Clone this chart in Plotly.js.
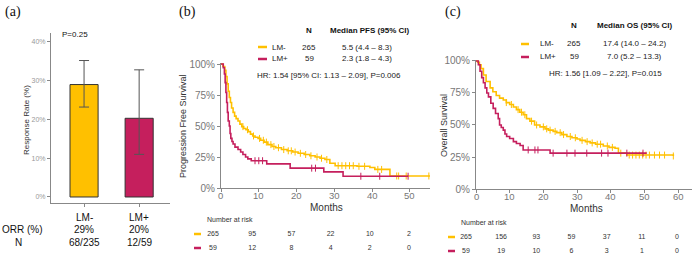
<!DOCTYPE html>
<html>
<head>
<meta charset="utf-8">
<script src="https://cdn.plot.ly/plotly-3.0.1.min.js"></script>
<style>html,body{margin:0;padding:0;background:#fff;}#chart{width:698px;height:258px;}</style>
</head>
<body>
<div id="chart"></div>
<script>
// ---------- DATA ----------
const groups = ["LM-", "LM+"];
const groupColors = ["#FFC000", "#C51F5D"];
// Panel (a) response rate
const orrValues = [29.0, 20.3];
const orrUpper = [35.2, 32.8];
const orrLower = [23.2, 11.0];
const orrText = ["29%", "20%"];
const orrN = ["68/235", "12/59"];
const orrP = "P=0.25";
const orrTicks = [0, 10, 20, 30, 40];

// Panel (b) PFS Kaplan-Meier
const pfsMinusT = [0, 0.5, 1.0, 1.3, 1.6, 1.9, 2.2, 2.5, 2.8, 3.2, 3.6, 4.0, 4.5, 5.0, 5.5, 6.0, 6.6, 7.2, 7.8, 8.4, 9.0, 9.8, 10.5, 11.4, 12.4, 13.5, 14.5, 16.0, 17.5, 19.0, 20.4, 22.0, 23.5, 24.9, 26.2, 27.5, 28.8, 30.2, 36.0, 39.4, 40.7, 44.7, 55.3];
const pfsMinusS = [100, 98, 95, 90, 84, 78, 73, 69, 64.5, 61, 58, 56, 54, 51.5, 49.5, 48, 47, 45.5, 43.5, 42, 41, 40, 38.5, 37, 35, 33.5, 32.5, 31, 30, 29, 28, 27, 26, 25, 24, 23, 20, 18, 17.5, 16.5, 15, 9.7, 9.7];
const pfsMinusCens = [5.8, 7.0, 8.6, 10.2, 11.2, 12.0, 13.2, 14.0, 15.2, 16.6, 17.8, 18.6, 19.6, 21.0, 22.4, 23.8, 25.4, 26.6, 28.0, 31.0, 32.0, 33.0, 34.0, 35.0, 36.5, 38.0, 41.5, 42.5, 46.5, 47.0, 49.0, 55.0];
const pfsPlusT = [0, 0.6, 0.9, 1.1, 1.3, 1.5, 1.7, 1.9, 2.2, 2.4, 2.6, 2.9, 3.2, 3.7, 4.5, 5.2, 5.8, 6.5, 7.1, 8.0, 12.1, 18.3, 27.2, 32.3, 49.5];
const pfsPlusS = [100, 97, 92, 85, 77, 69, 61, 54, 50, 44, 40, 37.5, 35.5, 33, 31, 29, 27, 25, 23.5, 22, 19.5, 16, 13, 9.5, 9.5];
const pfsPlusCens = [9.0, 10.0, 11.0, 24.0, 25.0, 37.0, 42.0, 49.5];
const pfsXTicks = [0, 10, 20, 30, 40, 50];
const pfsRiskTimes = [0, 10, 20, 30, 40, 50];
const pfsRiskMinus = [265, 95, 57, 22, 10, 2];
const pfsRiskPlus = [59, 12, 8, 4, 2, 0];
const pfsN = [265, 59];
const pfsMedian = ["5.5 (4.4 – 8.3)", "2.3 (1.8 – 4.3)"];
const pfsHR = "HR: 1.54 [95% CI: 1.13 – 2.09], P=0.006";

// Panel (c) OS Kaplan-Meier
const osMinusT = [0, 0.5, 1, 1.5, 2.2, 3, 4.2, 5, 6, 7, 8.1, 9, 10, 11.1, 12, 13, 14, 15, 16, 17.4, 19, 20.5, 21.5, 22.9, 24, 25.5, 27, 28.5, 30, 30.9, 32.5, 33.9, 35.5, 37.8, 39.5, 41.3, 42.3, 44.8, 58.6];
const osMinusS = [100, 99, 97, 94, 89, 84, 79, 76, 73, 71, 69.5, 67.5, 66, 64, 62, 60, 58, 55, 53, 50, 48.5, 47, 46, 45, 44, 42.5, 41, 40, 39, 38, 37, 36, 35, 33.6, 32.5, 31.8, 28, 26.5, 25.8];
const osMinusCens = [9.0, 10.5, 12.5, 13.5, 14.5, 16.5, 18.0, 20.0, 21.0, 22.0, 23.5, 25.0, 26.0, 28.0, 29.5, 31.5, 33.0, 34.5, 36.0, 37.0, 39.0, 40.5, 43.0, 45.5, 46.5, 47.5, 48.5, 49.5, 50.5, 51.5, 53.0, 54.5, 56.0, 58.6];
const osPlusT = [0, 0.7, 1.2, 1.7, 2.2, 2.7, 3.2, 3.7, 4.4, 5.1, 5.8, 6.6, 7.0, 7.5, 8.1, 8.6, 9.1, 10.0, 11.1, 12.0, 13.1, 14.0, 22.0, 50.7];
const osPlusS = [100, 97, 92, 87, 83, 79, 75, 72, 67, 63, 59, 55, 50, 48, 46, 43, 41, 39.5, 37, 35.5, 34, 30.5, 28, 28];
const osPlusCens = [15.5, 17.5, 18.4, 22.9, 27.0, 29.4, 32.9, 37.3, 39.2, 44.8, 49.6];
const osXTicks = [0, 10, 20, 30, 40, 50, 60];
const osRiskTimes = [0, 10, 20, 30, 40, 50, 60];
const osRiskMinus = [265, 156, 93, 59, 37, 11, 0];
const osRiskPlus = [59, 19, 10, 6, 3, 1, 0];
const osN = [265, 59];
const osMedian = ["17.4 (14.0 – 24.2)", "7.0 (5.2 – 13.3)"];
const osHR = "HR: 1.56 [1.09 – 2.22], P=0.015";
const survTicks = [0, 25, 50, 75, 100];

// ---------- HELPERS ----------
const W = 698, H = 258;
const px = v => v / W;
const py = v => 1 - v / H;
const FONT = "Liberation Sans, Arial, sans-serif";
function stepAt(tArr, sArr, t) {
  let s = sArr[0];
  for (let i = 0; i < tArr.length; i++) { if (tArr[i] <= t) s = sArr[i]; }
  return s;
}

const traces = [];
// Panel a bars
traces.push({
  type: "bar", x: [1, 2], y: orrValues, width: 0.51, xaxis: "x", yaxis: "y",
  marker: { color: groupColors, line: { color: "#333", width: 1 } },
  error_y: { type: "data", symmetric: false,
    array: orrValues.map((v, i) => orrUpper[i] - v),
    arrayminus: orrValues.map((v, i) => v - orrLower[i]),
    color: "#555", thickness: 1, width: 5 },
  hoverinfo: "skip"
});

function kmTraces(tA, sA, cens, color, xa, ya) {
  traces.push({ type: "scatter", mode: "lines", x: tA, y: sA, xaxis: xa, yaxis: ya,
    line: { color: color, width: 1.6, shape: "hv" }, hoverinfo: "skip" });
  traces.push({ type: "scatter", mode: "markers", x: cens, y: cens.map(t => stepAt(tA, sA, t)),
    xaxis: xa, yaxis: ya, hoverinfo: "skip",
    marker: { symbol: "line-ns", size: 5, line: { color: color, width: 1 }, color: color } });
}
kmTraces(pfsMinusT, pfsMinusS, pfsMinusCens, groupColors[0], "x2", "y2");
kmTraces(pfsPlusT, pfsPlusS, pfsPlusCens, groupColors[1], "x2", "y2");
kmTraces(osMinusT, osMinusS, osMinusCens, groupColors[0], "x3", "y3");
kmTraces(osPlusT, osPlusS, osPlusCens, groupColors[1], "x3", "y3");

// risk tables
function riskTrace(times, vals, row, xa, ya) {
  traces.push({ type: "scatter", mode: "text", x: times, y: times.map(() => row),
    text: vals.map(String), xaxis: xa, yaxis: ya, cliponaxis: false, hoverinfo: "skip",
    textfont: { family: FONT, size: 7, color: "#333" } });
}
riskTrace(pfsRiskTimes, pfsRiskMinus, 1, "x4", "y4");
riskTrace(pfsRiskTimes, pfsRiskPlus, 2, "x4", "y4");
riskTrace(osRiskTimes, osRiskMinus, 1, "x5", "y5");
riskTrace(osRiskTimes, osRiskPlus, 2, "x5", "y5");

const axisLine = "#888";
const tickFontB = { family: FONT, size: 9.5, color: "#777" };
const tickFontY = { family: FONT, size: 10, color: "#777" };
const pct = v => v + "%";

const layout = {
  width: W, height: H, margin: { l: 0, r: 0, t: 0, b: 0 },
  paper_bgcolor: "#fff", plot_bgcolor: "#fff", showlegend: false,
  font: { family: FONT },
  xaxis: { domain: [px(51), px(170)], range: [0.4, 2.56], anchor: "y", showline: true, linecolor: axisLine, linewidth: 1,
    ticks: "outside", ticklen: 3, tickcolor: axisLine, tickvals: [1, 2], showticklabels: false, showgrid: false, zeroline: false },
  yaxis: { domain: [py(203), py(33)], range: [-1.55, 42.3], anchor: "x", showline: true, linecolor: axisLine, linewidth: 1,
    ticks: "outside", ticklen: 3, tickcolor: axisLine, tickvals: orrTicks, ticktext: orrTicks.map(pct),
    tickfont: { family: FONT, size: 7, color: "#999" }, showgrid: false, zeroline: false },
  xaxis2: { domain: [px(221), px(430)], range: [0, 55.3], anchor: "y2", showline: true, linecolor: axisLine, linewidth: 1,
    ticks: "outside", ticklen: 3, tickcolor: axisLine, tickvals: pfsXTicks, showticklabels: false,
    showgrid: false, zeroline: false },
  yaxis2: { domain: [py(188), py(62.8)], range: [0, 101], anchor: "x2", showline: true, linecolor: axisLine, linewidth: 1,
    ticks: "outside", ticklen: 3, tickcolor: axisLine, tickvals: survTicks, ticktext: survTicks.map(pct),
    tickfont: tickFontY, showgrid: false, zeroline: false },
  xaxis3: { domain: [px(476), px(691.5)], range: [0, 64], anchor: "y3", showline: true, linecolor: axisLine, linewidth: 1,
    ticks: "outside", ticklen: 3, tickcolor: axisLine, tickvals: osXTicks, showticklabels: false,
    showgrid: false, zeroline: false },
  yaxis3: { domain: [py(189), py(59.7)], range: [0, 101], anchor: "x3", showline: true, linecolor: axisLine, linewidth: 1,
    ticks: "outside", ticklen: 3, tickcolor: axisLine, tickvals: survTicks, ticktext: survTicks.map(pct),
    tickfont: tickFontY, showgrid: false, zeroline: false },
  xaxis4: { domain: [px(213), px(409)], range: [0, 50], anchor: "y4", visible: false },
  yaxis4: { domain: [py(255), py(227)], range: [2.5, 0.5], anchor: "x4", visible: false },
  xaxis5: { domain: [px(466), px(677)], range: [0, 60], anchor: "y5", visible: false },
  yaxis5: { domain: [py(258), py(230)], range: [2.5, 0.5], anchor: "x5", visible: false },
  annotations: [], shapes: []
};

const A = layout.annotations;
function ann(text, x, y, opts) {
  A.push(Object.assign({ text: text, x: px(x), y: py(y), xref: "paper", yref: "paper", showarrow: false,
    xanchor: "center", yanchor: "middle", font: { family: FONT, size: 8, color: "#222" } }, opts || {}));
}
function dataAnn(text, x, xref, y, font) {
  A.push({ text: text, x: x, xref: xref, y: py(y), yref: "paper", showarrow: false,
    xanchor: "center", yanchor: "middle", font: font });
}
const serif = { family: "Liberation Serif, Times New Roman, serif", size: 14, color: "#111" };
ann("(a)", 3, 12, { xanchor: "left", font: serif });
ann("(b)", 177, 12, { xanchor: "left", font: serif });
ann("(c)", 443, 12, { xanchor: "left", font: serif });

// panel a texts
ann(orrP, 60, 34, { xanchor: "left", font: { family: FONT, size: 8, color: "#111" } });
ann("Response Rate (%)", 27, 120, { textangle: -90, font: { family: FONT, size: 8, color: "#333" } });
const bigF = { family: FONT, size: 10, color: "#111" };
groups.forEach((g, i) => {
  dataAnn(g, i + 1, "x", 217, bigF);
  dataAnn(orrText[i], i + 1, "x", 229, bigF);
  dataAnn(orrN[i], i + 1, "x", 242, bigF);
});
ann("ORR (%)", 22, 229, { font: bigF });
ann("N", 18, 242, { font: bigF });

// x tick labels of KM panels
pfsXTicks.forEach(t => dataAnn(String(t), t, "x2", 195, tickFontB));
osXTicks.forEach(t => dataAnn(String(t), t, "x3", 196, tickFontB));

// panel b texts
ann("Progression Free Survival", 183, 126, { textangle: -90, font: { family: FONT, size: 9, color: "#333" } });
ann("Months", 326, 207, { font: { family: FONT, size: 10, color: "#333" } });
const boldF = { family: FONT, size: 8, color: "#111", weight: "bold" };
const regF = { family: FONT, size: 8, color: "#222" };
ann("<b>N</b>", 309, 31, { font: boldF });
ann("<b>Median PFS (95% CI)</b>", 369, 31, { font: boldF });
[47, 59].forEach((yy, i) => {
  ann(groups[i], 270, yy, { xanchor: "left", font: regF });
  ann(String(pfsN[i]), 309, yy, { font: regF });
  ann(pfsMedian[i], 367, yy, { font: regF });
  layout.shapes.push({ type: "line", xref: "paper", yref: "paper", x0: px(258), x1: px(267), y0: py(yy), y1: py(yy),
    line: { color: groupColors[i], width: 2.5 } });
});
ann(pfsHR, 329, 75, { font: regF });
ann("Number at risk", 205, 219, { xanchor: "left", font: { family: FONT, size: 7, color: "#333" } });
[234, 248].forEach((yy, i) => layout.shapes.push({ type: "line", xref: "paper", yref: "paper",
  x0: px(194), x1: px(201), y0: py(yy), y1: py(yy), line: { color: groupColors[i], width: 2.5 } }));

// panel c texts
ann("Overall Survival", 444, 125, { textangle: -90, font: { family: FONT, size: 9, color: "#333" } });
ann("Months", 586, 208, { font: { family: FONT, size: 10, color: "#333" } });
ann("<b>N</b>", 574, 26, { font: boldF });
ann("<b>Median OS (95% CI)</b>", 634, 26, { font: boldF });
[44, 57].forEach((yy, i) => {
  ann(groups[i], 538, yy, { xanchor: "left", font: regF });
  ann(String(osN[i]), 574, yy, { font: regF });
  ann(osMedian[i], 634, yy, { font: regF });
  layout.shapes.push({ type: "line", xref: "paper", yref: "paper", x0: px(521), x1: px(529), y0: py(yy), y1: py(yy),
    line: { color: groupColors[i], width: 2.5 } });
});
ann(osHR, 605, 73, { font: regF });
ann("Number at risk", 459, 222, { xanchor: "left", font: { family: FONT, size: 7, color: "#333" } });
[237, 251].forEach((yy, i) => layout.shapes.push({ type: "line", xref: "paper", yref: "paper",
  x0: px(448), x1: px(455), y0: py(yy), y1: py(yy), line: { color: groupColors[i], width: 2.5 } }));

Plotly.newPlot("chart", traces, layout, { staticPlot: true, displayModeBar: false });
</script>
</body>
</html>
